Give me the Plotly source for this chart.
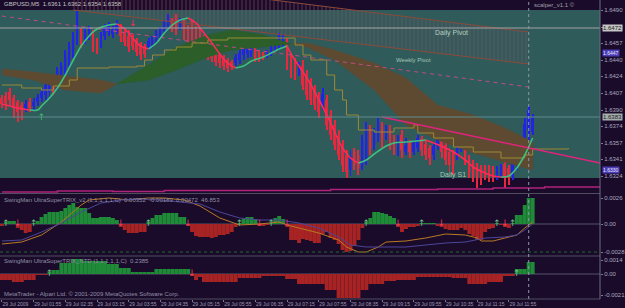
import plotly.graph_objects as go

# ---------------- data ----------------
time_labels = ["29 Jul 2009", "29 Jul 01:55", "29 Jul 02:35", "29 Jul 03:15", "29 Jul 03:55",
               "29 Jul 04:35", "29 Jul 05:15", "29 Jul 05:55", "29 Jul 06:35", "29 Jul 07:15",
               "29 Jul 07:55", "29 Jul 08:35", "29 Jul 09:15", "29 Jul 09:55", "29 Jul 10:35",
               "29 Jul 11:15", "29 Jul 11:55"]
time_label_bars = [0, 8, 16, 24, 32, 40, 48, 56, 64, 72, 80, 88, 96, 104, 112, 120, 128]

bar_open = [1.6402,1.6404,1.6408,1.6402,1.6398,1.6395,1.6392,1.6398,1.6394,1.6398,
            1.6402,1.6405,1.6408,1.6415,1.6414,1.6425,1.6430,1.6440,1.6450,1.6462,
            1.6468,1.6460,1.6464,1.6466,1.6458,1.6456,1.6464,1.6468,1.6466,1.6470,
            1.6473,1.6468,1.6464,1.6462,1.6458,1.6455,1.6453,1.6453,1.6456,1.6460,
            1.6465,1.6470,1.6475,1.6480,1.6482,1.6473,1.6476,1.6471,1.6474,1.6470,
            1.6467,1.6462,1.6460,1.6452,1.6448,1.6446,1.6442,1.6440,1.6438,1.6437,
            1.6440,1.6445,1.6446,1.6447,1.6450,1.6447,1.6446,1.6444,1.6448,1.6452,
            1.6456,1.6456,1.6458,1.6440,1.6438,1.6428,1.6434,1.6425,1.6418,1.6410,
            1.6404,1.6394,1.6400,1.6385,1.6375,1.6364,1.6354,1.6345,1.6330,1.6348,
            1.6345,1.6335,1.6342,1.6370,1.6355,1.6362,1.6375,1.6363,1.6372,1.6362,
            1.6348,1.6365,1.6348,1.6357,1.6348,1.6352,1.6361,1.6356,1.6352,1.6345,
            1.6354,1.6362,1.6355,1.6348,1.6347,1.6344,1.6352,1.6358,1.6342,1.6336,
            1.6334,1.6332,1.6332,1.6332,1.6330,1.6324,1.6326,1.6336,1.6332,1.6324,
            1.6335,1.6345,1.6354,1.6370,1.6368]
bar_high = [1.6405,1.6408,1.6412,1.6405,1.6400,1.6398,1.6400,1.6402,1.6402,1.6406,
            1.6412,1.6420,1.6420,1.6418,1.6433,1.6438,1.6450,1.6458,1.6468,1.6490,
            1.6472,1.6472,1.6474,1.6470,1.6462,1.6468,1.6476,1.6478,1.6474,1.6480,
            1.6476,1.6472,1.6470,1.6466,1.6462,1.6458,1.6456,1.6462,1.6464,1.6470,
            1.6473,1.6480,1.6486,1.6482,1.6486,1.6482,1.6480,1.6475,1.6480,1.6474,
            1.6472,1.6465,1.6464,1.6455,1.6452,1.6450,1.6445,1.6442,1.6440,1.6446,
            1.6450,1.6456,1.6455,1.6454,1.6452,1.6450,1.6448,1.6450,1.6456,1.6460,
            1.6467,1.6466,1.6462,1.6445,1.6442,1.6438,1.6440,1.6430,1.6422,1.6415,
            1.6408,1.6412,1.6405,1.6390,1.6380,1.6370,1.6360,1.6350,1.6350,1.6352,
            1.6350,1.6365,1.6378,1.6375,1.6372,1.6382,1.6378,1.6375,1.6375,1.6365,
            1.6365,1.6370,1.6362,1.6360,1.6360,1.6365,1.6364,1.6360,1.6355,1.6358,
            1.6367,1.6365,1.6360,1.6352,1.6350,1.6364,1.6365,1.6362,1.6345,1.6340,
            1.6337,1.6335,1.6335,1.6335,1.6334,1.6334,1.6336,1.6340,1.6335,1.6350,
            1.6352,1.6360,1.6382,1.6394,1.6386]
bar_low = [1.6392,1.6390,1.6395,1.6382,1.6378,1.6380,1.6388,1.6388,1.6390,1.6394,
           1.6398,1.6400,1.6402,1.6405,1.6410,1.6416,1.6422,1.6432,1.6442,1.6455,
           1.6452,1.6456,1.6460,1.6448,1.6446,1.6452,1.6460,1.6464,1.6462,1.6466,
           1.6458,1.6454,1.6448,1.6450,1.6444,1.6440,1.6442,1.6450,1.6452,1.6456,
           1.6462,1.6466,1.6470,1.6468,1.6465,1.6470,1.6460,1.6452,1.6455,1.6450,
           1.6445,1.6448,1.6440,1.6438,1.6434,1.6432,1.6430,1.6428,1.6430,1.6434,
           1.6436,1.6440,1.6442,1.6443,1.6438,1.6438,1.6440,1.6442,1.6444,1.6448,
           1.6450,1.6452,1.6430,1.6422,1.6420,1.6424,1.6410,1.6400,1.6395,1.6390,
           1.6382,1.6390,1.6370,1.6360,1.6350,1.6340,1.6328,1.6322,1.6324,1.6330,
           1.6325,1.6330,1.6335,1.6345,1.6350,1.6358,1.6352,1.6360,1.6350,1.6345,
           1.6344,1.6342,1.6345,1.6342,1.6345,1.6348,1.6344,1.6340,1.6335,1.6340,
           1.6350,1.6342,1.6335,1.6328,1.6325,1.6340,1.6348,1.6335,1.6322,1.6318,
           1.6312,1.6315,1.6320,1.6318,1.6318,1.6320,1.6322,1.6312,1.6315,1.6320,
           1.6330,1.6340,1.6350,1.6360,1.6365]
bar_close = [1.6396,1.6397,1.6400,1.6392,1.6388,1.6390,1.6396,1.6392,1.6398,1.6403,
             1.6408,1.6415,1.6416,1.6410,1.6430,1.6434,1.6445,1.6454,1.6464,1.6486,
             1.6458,1.6468,1.6470,1.6454,1.6450,1.6464,1.6472,1.6475,1.6470,1.6477,
             1.6464,1.6458,1.6453,1.6454,1.6448,1.6445,1.6446,1.6459,1.6461,1.6467,
             1.6471,1.6478,1.6484,1.6472,1.6470,1.6479,1.6465,1.6458,1.6460,1.6455,
             1.6450,1.6452,1.6445,1.6442,1.6438,1.6437,1.6434,1.6432,1.6433,1.6443,
             1.6447,1.6453,1.6452,1.6451,1.6442,1.6441,1.6442,1.6448,1.6453,1.6457,
             1.6464,1.6462,1.6438,1.6428,1.6425,1.6435,1.6415,1.6405,1.6400,1.6395,
             1.6388,1.6406,1.6375,1.6365,1.6355,1.6345,1.6335,1.6328,1.6344,1.6335,
             1.6332,1.6360,1.6372,1.6352,1.6367,1.6378,1.6360,1.6372,1.6355,1.6350,
             1.6360,1.6350,1.6355,1.6348,1.6357,1.6362,1.6350,1.6345,1.6342,1.6354,
             1.6364,1.6348,1.6340,1.6335,1.6335,1.6360,1.6362,1.6342,1.6328,1.6324,
             1.6320,1.6322,1.6324,1.6322,1.6322,1.6331,1.6333,1.6322,1.6322,1.6345,
             1.6348,1.6355,1.6376,1.6390,1.6382]

ma_bars = [0, 2, 4, 7, 9, 10, 12, 14, 16, 18, 20, 22, 24, 27, 29, 31, 33, 35, 37, 39, 41, 43, 45, 47,
           49, 51, 53, 55, 57, 59, 61, 63, 66, 68, 70, 72, 73, 75, 77, 79, 82, 84, 86, 88, 90, 92,
           94, 97, 99, 102, 107, 109, 112, 114, 117, 119, 122, 124, 126, 128, 130, 132, 134]
ma_values = [1.6396, 1.6394, 1.6392, 1.6390, 1.6390, 1.6394, 1.6402, 1.6412, 1.6425, 1.6440, 1.6454,
             1.6464, 1.6471, 1.6475, 1.6476, 1.6471, 1.6462, 1.6454, 1.6451, 1.6457, 1.6467, 1.6475,
             1.6480, 1.6482, 1.6477, 1.6467, 1.6457, 1.6446, 1.6437, 1.6432, 1.6434, 1.6439, 1.6443,
             1.6447, 1.6451, 1.6454, 1.6446, 1.6434, 1.6422, 1.6408, 1.6385, 1.6368, 1.6352, 1.6342,
             1.6337, 1.6340, 1.6346, 1.6354, 1.6357, 1.6358, 1.6360, 1.6357, 1.6352, 1.6348, 1.6340,
             1.6333, 1.6327, 1.6324, 1.6323, 1.6324, 1.6332, 1.6345, 1.6362]

kijun_bars = [0, 5, 10, 13, 17, 19, 27, 34, 36, 38, 41, 44, 48, 52, 57, 72, 74, 76, 78, 82, 84, 86,
              87, 90, 94, 99, 104, 105, 109, 114, 119, 126, 132, 134, 143]
kijun_values = [1.6415, 1.6412, 1.6410, 1.6414, 1.6420, 1.6432, 1.6433, 1.6434, 1.6440, 1.6445, 1.6450,
                1.6453, 1.6457, 1.6460, 1.6462, 1.6462, 1.6455, 1.6445, 1.6440, 1.6425, 1.6410, 1.6400,
                1.6385, 1.6370, 1.6368, 1.6372, 1.6375, 1.6367, 1.6362, 1.6353, 1.6348, 1.6342, 1.6345,
                1.6351, 1.6352]

cloud_bars = [0, 8, 16, 25, 29, 37, 44, 52, 58, 66, 73, 77, 84, 94, 102, 110, 119, 127, 134]
cloud_span_a = [1.6425, 1.6420, 1.6410, 1.6407, 1.6416, 1.6435, 1.6453, 1.6465, 1.6470, 1.6465,
                1.6456, 1.6453, 1.6440, 1.6410, 1.6375, 1.6360, 1.6347, 1.6338, 1.6330]
cloud_span_b = [1.6431, 1.6428, 1.6424, 1.6420, 1.6416, 1.6420, 1.6430, 1.6443, 1.6450, 1.6453,
                1.6456, 1.6457, 1.6450, 1.6437, 1.6422, 1.6395, 1.6385, 1.6372, 1.6358]

pivot_zone_upper_bars = [18, 133]
pivot_zone_upper = [1.6525, 1.6468]
pivot_zone_lower_bars = [18, 133]
pivot_zone_lower = [1.6490, 1.6436]

weekly_pivot_bars = [0, 133]
weekly_pivot_prices = [1.6484, 1.6413]

trend_bars = [96, 151]
trend_prices = [1.6383, 1.6337]

band_bars = [0, 14, 28, 41, 83, 110, 124, 137, 151]
band_prices = [1.6308, 1.6309, 1.63085, 1.63095, 1.63105, 1.6311, 1.6312, 1.6313, 1.6313]

zone_top, zone_bottom = 1.6490, 1.6322
level_line_price = 1.6472
bid_price = 1.6383
blue_tag_prices = [1.6447, 1.6330]

price_ticks = [1.6490, 1.6473, 1.6457, 1.6440, 1.6424, 1.6407, 1.6390, 1.6374, 1.6357, 1.6341, 1.6324]

main_up_arrow = (10, 1.6382)
main_down_arrow = (33, 1.6476)

trix_hist = [-0.0002, 0.0002, 0.0003, 0.0003, -0.0004, -0.0006, -0.0009, -0.0008, 0.0001, 0.0003,
             0.0007, 0.0010, 0.0012, 0.0012, 0.0012, 0.0013, 0.0016, 0.0019, 0.0021, 0.0017,
             0.0016, 0.0016, 0.0011, 0.0006, 0.0006, 0.0007, 0.0007, 0.0007, 0.0006, 0.0004,
             -0.0003, -0.0006, -0.0009, -0.0009, -0.0009, -0.0008, -0.0008, 0.0002, 0.0006, 0.0009,
             0.0009, 0.0011, 0.0011, 0.0011, 0.0011, 0.0007, 0.0007, -0.0002, -0.0008, -0.0012,
             -0.0013, -0.0013, -0.0013, -0.0014, -0.0013, -0.0011, -0.0011, -0.0010, -0.0008, -0.0003,
             0.0001, 0.0005, 0.0007, 0.0007, 0.0005, -0.0002, -0.0002, -0.0001, 0.0001, 0.0006,
             0.0008, 0.0005, -0.0003, -0.0016, -0.0016, -0.0019, -0.0015, -0.0016, -0.0017, -0.0019,
             -0.0019, -0.0010, -0.0008, -0.0014, -0.0016, -0.0020, -0.0026, -0.0028, -0.0027, -0.0022,
             -0.0016, -0.0004, 0.0002, 0.0006, 0.0012, 0.0012, 0.0011, 0.0010, 0.0008, 0.0006,
             -0.0003, -0.0008, -0.0005, -0.0003, -0.0003, -0.0002, 0.0001, 0.0001, 0.0001, 0.0001,
             -0.0002, -0.0003, -0.0005, -0.0006, -0.0006, -0.0006, -0.0004, -0.0006, -0.0010, -0.0012,
             -0.0016, -0.0016, -0.0008, -0.0005, -0.0004, 0.0001, -0.0001, -0.0003, -0.0004, 0.0001,
             0.0009, 0.0009, 0.0019, 0.0026, 0.0026]
trix_fast_bars = [0, 5, 10, 15, 20, 22, 27, 32, 37, 41, 46, 50, 55, 60, 65, 70, 72, 75, 80, 85, 87,
                  90, 92, 95, 97, 102, 107, 112, 117, 120, 121, 124, 127, 130, 132, 134]
trix_fast = [-0.0020, -0.0018, -0.0011, 0.0002, 0.0019, 0.0024, 0.0026, 0.0024, 0.0026, 0.0026, 0.0024,
             0.0018, 0.0006, -0.0001, 0.0000, 0.0002, -0.0001, -0.0004, -0.0009, -0.0016, -0.0023,
             -0.0028, -0.0028, -0.0023, -0.0018, -0.0017, -0.0014, -0.0010, -0.0011, -0.0014, -0.0017,
             -0.0017, -0.0014, -0.0011, -0.0004, 0.0002]
trix_slow_bars = [0, 5, 10, 15, 20, 25, 30, 35, 40, 45, 50, 55, 60, 65, 70, 75, 80, 85, 88, 92, 97,
                  102, 112, 117, 122, 127, 130, 132, 134]
trix_slow = [-0.0017, -0.0016, -0.0008, 0.0001, 0.0012, 0.0021, 0.0024, 0.0025, 0.0024, 0.0022, 0.0020,
             0.0012, 0.0006, 0.0004, 0.0004, 0.0001, -0.0004, -0.0013, -0.0021, -0.0023, -0.0023,
             -0.0023, -0.0019, -0.0018, -0.0014, -0.0013, -0.0011, -0.0006, 0.0000]
trix_signal_level = -0.0028
trix_up_arrows = [1, 8, 37, 60, 68, 92, 106, 125, 129]
trix_down_arrows = [4, 30, 47, 65, 72, 100, 111, 127]

ntd_hist = [-0.0006, -0.0006, -0.0006, -0.0008, -0.0008, -0.0008, -0.0006, -0.0006, -0.0006, -0.0001,
            -0.0001, -0.0001, 0.0002, 0.0004, 0.0004, 0.0011, 0.0011, 0.0011, 0.0015, 0.0015,
            0.0015, 0.0013, 0.0013, 0.0013, 0.0013, 0.0013, 0.0013, 0.0010, 0.0010, 0.0010,
            0.0006, 0.0006, 0.0006, 0.0002, 0.0002, 0.0002, 0.0002, 0.0002, 0.0002, 0.0005,
            0.0005, 0.0005, 0.0005, 0.0005, 0.0005, 0.0005, 0.0005, 0.0005, -0.0002, -0.0006,
            -0.0003, -0.0008, -0.0008, -0.0008, -0.0008, -0.0008, -0.0008, -0.0008, -0.0008, -0.0008,
            -0.0004, -0.0004, -0.0004, -0.0004, -0.0004, -0.0004, -0.0002, -0.0002, -0.0002, -0.0002,
            -0.0002, -0.0002, -0.0005, -0.0005, -0.0005, -0.0010, -0.0010, -0.0010, -0.0010, -0.0010,
            -0.0010, -0.0010, -0.0016, -0.0016, -0.0016, -0.0024, -0.0024, -0.0024, -0.0024, -0.0024,
            -0.0024, -0.0016, -0.0016, -0.0010, -0.0010, -0.0010, -0.0010, -0.0007, -0.0007, -0.0007,
            -0.0006, -0.0006, -0.0006, -0.0006, -0.0006, -0.0003, -0.0003, -0.0003, -0.0003, -0.0003,
            -0.0003, -0.0003, -0.0003, -0.0003, -0.0004, -0.0004, -0.0004, -0.0004, -0.0010, -0.0010,
            -0.0010, -0.0010, -0.0010, -0.0008, -0.0008, -0.0008, -0.0008, -0.0002, -0.0002, -0.0002,
            0.0005, 0.0005, 0.0005, 0.0012, 0.0012]
ntd_up_arrows = [12, 130]
ntd_down_arrows = [48]

current_bar = 133

# ---------------- styling ----------------
BG = "#1b0b2b"
TEAL = "#2f5b5b"
BULL = "#2323e6"
BEAR = "#e8283f"
MA_UP = "#3fbf7f"
MA_DN = "#ff2a55"
HIST_UP = "#1f8a37"
HIST_DN = "#a82424"
TXT = "#a8a8bc"
FONT = "Liberation Sans"

fig = go.Figure()

def add(tr):
    tr.update(hoverinfo="skip", showlegend=False)
    fig.add_trace(tr)

# pivot zone hatch
add(go.Scatter(x=pivot_zone_upper_bars + pivot_zone_lower_bars[::-1],
               y=pivot_zone_upper + pivot_zone_lower[::-1], fill="toself", mode="lines",
               line=dict(width=0), fillcolor="rgba(0,0,0,0)",
               fillpattern=dict(shape="|", fgcolor="#8a5060", bgcolor="rgba(0,0,0,0)", size=4, solidity=0.3)))
add(go.Scatter(x=pivot_zone_upper_bars, y=pivot_zone_upper, mode="lines", line=dict(color="#8c4a3a", width=1)))
add(go.Scatter(x=pivot_zone_lower_bars, y=pivot_zone_lower, mode="lines", line=dict(color="#8c4a3a", width=1)))

# cloud
cross = [0]
for k in range(1, len(cloud_bars)):
    if cloud_span_a[k] == cloud_span_b[k]:
        cross.append(k)
if cross[-1] != len(cloud_bars) - 1:
    cross.append(len(cloud_bars) - 1)
for s, e in zip(cross[:-1], cross[1:]):
    xs = cloud_bars[s:e + 1]
    a = cloud_span_a[s:e + 1]
    b = cloud_span_b[s:e + 1]
    mid = (s + e) // 2
    col = "#2b5e29" if cloud_span_a[mid] > cloud_span_b[mid] else "#5e4a31"
    add(go.Scatter(x=xs + xs[::-1], y=a + b[::-1], fill="toself", mode="lines",
                   line=dict(width=0.5, color=col), fillcolor=col))

# weekly pivot dashed
add(go.Scatter(x=weekly_pivot_bars, y=weekly_pivot_prices, mode="lines",
               line=dict(color="#c04a86", width=1, dash="4px,4px")))

# kijun-like step line
add(go.Scatter(x=kijun_bars, y=kijun_values, mode="lines", line=dict(color="#9c8a34", width=1, shape="hv")))

# candles
n = len(bar_open)
idx = list(range(n))
cols = [BULL if bar_close[k] >= bar_open[k] else BEAR for k in idx]
add(go.Bar(x=idx, base=bar_low, y=[bar_high[k] - bar_low[k] for k in idx], width=0.25,
           marker=dict(color=cols, line=dict(width=0))))
add(go.Bar(x=idx, base=[min(bar_open[k], bar_close[k]) for k in idx],
           y=[max(abs(bar_close[k] - bar_open[k]), 0.00006) for k in idx], width=0.5,
           marker=dict(color=cols, line=dict(width=0))))

# MA coloured by direction
seg_x, seg_y, seg_c = [ma_bars[0]], [ma_values[0]], None
for k in range(1, len(ma_bars)):
    c = MA_UP if ma_values[k] >= ma_values[k - 1] else MA_DN
    if seg_c is not None and c != seg_c:
        add(go.Scatter(x=seg_x, y=seg_y, mode="lines", line=dict(color=seg_c, width=1.6, shape="spline")))
        seg_x, seg_y = [ma_bars[k - 1]], [ma_values[k - 1]]
    seg_c = c
    seg_x.append(ma_bars[k])
    seg_y.append(ma_values[k])
add(go.Scatter(x=seg_x, y=seg_y, mode="lines", line=dict(color=seg_c, width=1.6, shape="spline")))

# trend line
add(go.Scatter(x=trend_bars, y=trend_prices, mode="lines", line=dict(color="#e0237c", width=1.5)))

# bottom band
add(go.Scatter(x=band_bars, y=band_prices, mode="lines", line=dict(color="#b0237c", width=1.5, shape="hv")))

# arrows main
add(go.Scatter(x=[main_up_arrow[0]], y=[main_up_arrow[1]], mode="text", text=["↑"],
               textfont=dict(color="#3fbf6f", size=9, family="DejaVu Sans")))
add(go.Scatter(x=[main_down_arrow[0]], y=[main_down_arrow[1]], mode="text", text=["↓"],
               textfont=dict(color="#ff2a55", size=9, family="DejaVu Sans")))

# ----- panel 1 -----
add(go.Bar(x=idx, y=trix_hist, width=1, yaxis="y2",
           marker=dict(color=[HIST_UP if v >= 0 else HIST_DN for v in trix_hist], line=dict(width=0))))
add(go.Scatter(x=trix_fast_bars, y=trix_fast, yaxis="y2", mode="lines", line=dict(color="#b87a22", width=1)))
add(go.Scatter(x=trix_slow_bars, y=trix_slow, yaxis="y2", mode="lines", line=dict(color="#4c4698", width=1)))
add(go.Scatter(x=trix_up_arrows, y=[0] * len(trix_up_arrows), yaxis="y2", mode="text",
               text=["↑"] * len(trix_up_arrows), textfont=dict(color="#6ac08a", size=9, family="DejaVu Sans")))
add(go.Scatter(x=trix_down_arrows, y=[0] * len(trix_down_arrows), yaxis="y2", mode="text",
               text=["↓"] * len(trix_down_arrows), textfont=dict(color="#f03a5a", size=9, family="DejaVu Sans")))

# ----- panel 2 -----
add(go.Bar(x=idx, y=ntd_hist, width=1, yaxis="y3",
           marker=dict(color=[HIST_UP if v >= 0 else HIST_DN for v in ntd_hist], line=dict(width=0))))
add(go.Scatter(x=ntd_up_arrows, y=[0] * len(ntd_up_arrows), yaxis="y3", mode="text",
               text=["↑"] * len(ntd_up_arrows), textfont=dict(color="#6ac08a", size=9, family="DejaVu Sans")))
add(go.Scatter(x=ntd_down_arrows, y=[0] * len(ntd_down_arrows), yaxis="y3", mode="text",
               text=["↓"] * len(ntd_down_arrows), textfont=dict(color="#f03a5a", size=9, family="DejaVu Sans")))

# ---------------- layout ----------------
H_PLOT = 299.0
def frac(py):
    return (H_PLOT - py) / H_PLOT

axis_font = dict(family=FONT, size=6, color=TXT)
fig.update_layout(
    width=625, height=308, margin=dict(l=0, r=19, t=0, b=9),
    paper_bgcolor=BG, plot_bgcolor=BG, barmode="overlay", showlegend=False,
    font=dict(family=FONT, size=6, color=TXT),
    xaxis=dict(range=[-0.5, 151], anchor="y3", showgrid=False, zeroline=False, showline=False,
               tickvals=time_label_bars, ticktext=time_labels, ticklabelposition="outside right",
               tickangle=0, ticks="outside", ticklen=2, tickcolor="#7a7a8c",
               tickfont=dict(family=FONT, size=5, color="#9a9aae")),
    yaxis=dict(domain=[frac(193), 1], range=[1.6307, 1.6500], side="right", showgrid=False,
               zeroline=False, tickvals=price_ticks, ticktext=[f"{v:.4f}" for v in price_ticks],
               ticks="outside", ticklen=2, tickcolor="#7a7a8c", tickfont=axis_font),
    yaxis2=dict(domain=[frac(255), frac(194)], range=[-0.0031, 0.0030], side="right", showgrid=False,
                zeroline=False, tickvals=[0.0026, 0, -0.0028], ticktext=["0.0026", "0.00", "-0.0028"],
                ticks="outside", ticklen=2, tickcolor="#7a7a8c", tickfont=axis_font),
    yaxis3=dict(domain=[0, frac(257)], range=[-0.0025, 0.0017], side="right", showgrid=False,
                zeroline=False, tickvals=[0.0014, 0, -0.0021], ticktext=["0.0014", "0.00", "-0.0021"],
                ticks="outside", ticklen=2, tickcolor="#7a7a8c", tickfont=axis_font),
)

shapes = [
    dict(type="rect", xref="x", yref="y", x0=-0.5, x1=151, y0=zone_bottom, y1=zone_top,
         fillcolor=TEAL, line=dict(width=0), layer="below"),
    dict(type="line", xref="x", yref="y", x0=-0.5, x1=151, y0=level_line_price, y1=level_line_price,
         line=dict(color="#a4a4a4", width=1)),
    dict(type="line", xref="x", yref="y", x0=-0.5, x1=151, y0=bid_price, y1=bid_price,
         line=dict(color="#5f8e8e", width=1)),
    dict(type="line", xref="x", yref="y2", x0=-0.5, x1=151, y0=0, y1=0, line=dict(color="#55556a", width=1), layer="below"),
    dict(type="line", xref="x", yref="y2", x0=-0.5, x1=151, y0=trix_signal_level, y1=trix_signal_level,
         line=dict(color="#1f6a2c", width=1, dash="dot")),
    dict(type="line", xref="x", yref="y3", x0=-0.5, x1=151, y0=0, y1=0, line=dict(color="#55556a", width=1), layer="below"),
    dict(type="line", xref="paper", yref="paper", x0=0, x1=1, y0=frac(193.5), y1=frac(193.5),
         line=dict(color="#4e4e60", width=1)),
    dict(type="line", xref="paper", yref="paper", x0=0, x1=1, y0=frac(256), y1=frac(256),
         line=dict(color="#4e4e60", width=1)),
    dict(type="line", xref="paper", yref="paper", x0=0, x1=1, y0=0, y1=0, line=dict(color="#4e4e60", width=1)),
    dict(type="line", xref="paper", yref="paper", x0=1, x1=1, y0=0, y1=1, line=dict(color="#6e6e80", width=1)),
    dict(type="line", xref="x", yref="paper", x0=current_bar, x1=current_bar, y0=0, y1=1,
         line=dict(color="#8c96aa", width=1, dash="dot")),
]
fig.update_layout(shapes=shapes)

ann = []
def note(text, x, y, xref="paper", yref="paper", size=6, color=TXT, xanchor="left", bg=None):
    d = dict(text=text, x=x, y=y, xref=xref, yref=yref, showarrow=False, xanchor=xanchor,
             yanchor="middle", font=dict(family=FONT, size=size, color=color))
    if bg:
        d.update(bgcolor=bg, borderpad=0)
    ann.append(d)

note("GBPUSD,M5  1.6361 1.6362 1.6354 1.6358", 0.004, frac(4), color="#c4c4c4")
note("scalper_v1.1 ©", 0.962, frac(5), color="#a0a0a8", xanchor="right")
note("Daily Pivot", 113.5, 1.6467, xref="x", yref="y", size=7, color="#b4d0c0", xanchor="center")
note("Weekly Pivot", 104, 1.6440, xref="x", yref="y", size=6, color="#a6c4b4", xanchor="center")
note("Daily S1", 114, 1.6325, xref="x", yref="y", size=7, color="#a6c8b4", xanchor="center")
note("SwingMan UltraSuperTRIX_v2 (1,1,1,1,1,C)  0.00352  -0.00189  0.00472  46.853", 0.004, frac(200), color="#9090a4")
note("SwingMan UltraSuperTRIX_NTD (1,1,1,1,1,C)  0.2385", 0.004, frac(261), color="#9090a4")
note("MetaTrader - Alpari Ltd. © 2001-2009 MetaQuotes Software Corp.", 0.004, frac(294), color="#9090a4")
note(f"{level_line_price:.4f}", 1.003, level_line_price, yref="y", color="#202020", bg="#c4c4c4")
note(f"{bid_price:.4f}", 1.003, bid_price, yref="y", color="#202020", bg="#a4acac")
for p in blue_tag_prices:
    note(f"{p:.4f}", 1.003, p, yref="y", size=5, color="#e8e8ff", bg="#4a3cb4")
fig.update_layout(annotations=ann)

fig.write_html("out.html")
